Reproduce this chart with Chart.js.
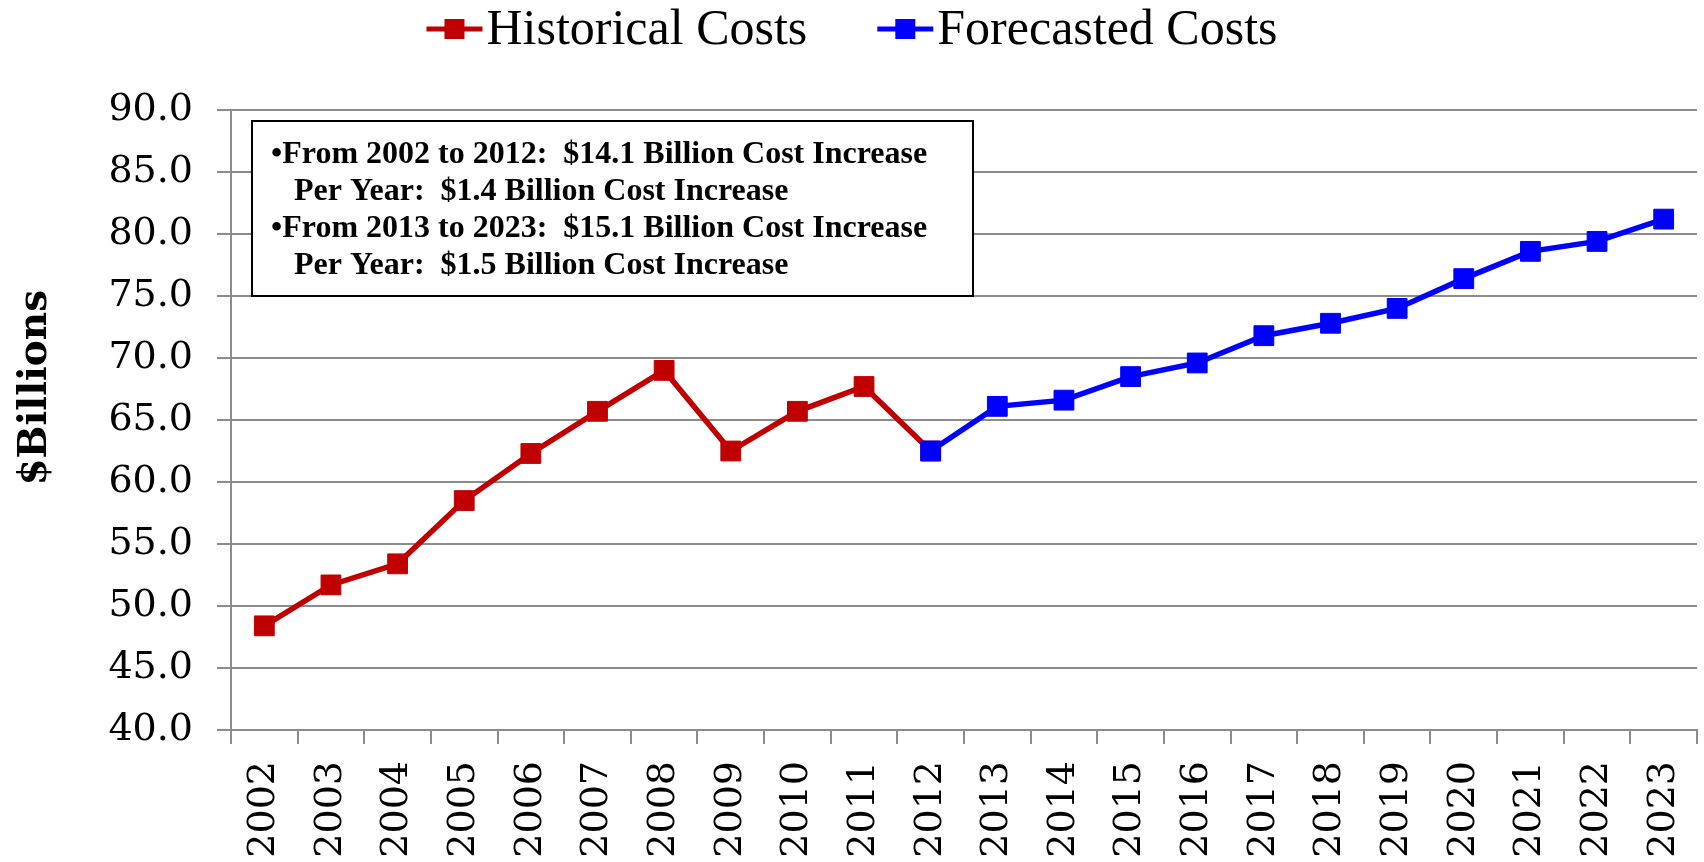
<!DOCTYPE html>
<html>
<head>
<meta charset="utf-8">
<script src="https://cdn.jsdelivr.net/npm/chart.js@4.4.1/dist/chart.umd.min.js"></script>
<style>
  body { margin: 0; background: #fff; }
  #wrap { width: 1704px; height: 862px; }
</style>
</head>
<body>
<div id="wrap"><canvas id="myChart" width="1704" height="862"></canvas></div>
<script>
const years = ["2002", "2003", "2004", "2005", "2006", "2007", "2008", "2009", "2010", "2011", "2012",
    "2013", "2014", "2015", "2016", "2017", "2018", "2019", "2020", "2021", "2022", "2023"];
const historicalCosts = [48.4, 51.7, 53.4, 58.5, 62.3, 65.7, 69.0, 62.5, 65.7, 67.7, 62.5,
    null, null, null, null, null, null, null, null, null, null, null];
const forecastedCosts = [null, null, null, null, null, null, null, null, null, null, 62.5,
    66.1, 66.6, 68.5, 69.6, 71.8, 72.8, 74.0, 76.4, 78.6, 79.4, 81.2];
const yMin = 40;
const yMax = 90;
const yStep = 5;
const yTitle = "$Billions";
const noteLines = [
    "\u2022From 2002 to 2012:  $14.1 Billion Cost Increase",
    "Per Year:  $1.4 Billion Cost Increase",
    "\u2022From 2013 to 2023:  $15.1 Billion Cost Increase",
    "Per Year:  $1.5 Billion Cost Increase"
];

const red = "#C00000";
const blue = "#0000FF";
const gridColor = "#8c8c8c";
const tickFont = { family: "'DejaVu Serif', serif", size: 38 };

// legend drawn by hand: line with a square on it, like the original
const legendPlugin = {
    id: "lineLegend",
    afterDraw(chart) {
        const ctx = chart.ctx;
        const items = [chart.data.datasets[1], chart.data.datasets[0]];
        ctx.save();
        ctx.font = "50px 'Liberation Serif', serif";
        const lineLen = 56, gap = 4, between = 70;
        let total = 0;
        items.forEach((ds, i) => {
            total += lineLen + gap + ctx.measureText(ds.label).width + (i < items.length - 1 ? between : 0);
        });
        let x = (chart.width - total) / 2;
        const y = 29;
        items.forEach((ds) => {
            ctx.strokeStyle = ds.borderColor;
            ctx.lineWidth = 5;
            ctx.beginPath();
            ctx.moveTo(x, y);
            ctx.lineTo(x + lineLen, y);
            ctx.stroke();
            ctx.fillStyle = ds.borderColor;
            ctx.fillRect(x + lineLen / 2 - 10, y - 10, 20, 20);
            ctx.fillStyle = "#000";
            ctx.textBaseline = "middle";
            ctx.textAlign = "left";
            ctx.fillText(ds.label, x + lineLen + gap, y + 2);
            x += lineLen + gap + ctx.measureText(ds.label).width + between;
        });
        ctx.restore();
    }
};

// text box in the upper left of the plot, plus the y axis title
const notePlugin = {
    id: "noteBox",
    afterDatasetsDraw(chart) {
        const ctx = chart.ctx;
        const area = chart.chartArea;
        const yScale = chart.scales.y;
        const left = area.left + 21;
        const top = area.top + 11;
        const width = 721;
        const bottom = yScale.getPixelForValue(75);
        ctx.save();
        ctx.fillStyle = "#fff";
        ctx.fillRect(left, top, width, bottom - top);
        ctx.strokeStyle = "#000";
        ctx.lineWidth = 2;
        ctx.strokeRect(left, top, width, bottom - top);
        ctx.fillStyle = "#000";
        ctx.font = "bold 32px 'Liberation Serif', serif";
        ctx.textBaseline = "middle";
        noteLines.forEach((line, i) => {
            const indent = i % 2 === 1 ? 42 : 19;
            ctx.fillText(line, left + indent, top + 34 + i * 37);
        });

        ctx.translate(36, yScale.getPixelForValue(67.6));
        ctx.rotate(-Math.PI / 2);
        ctx.font = "bold 39px 'DejaVu Serif', serif";
        ctx.textAlign = "center";
        ctx.fillText(yTitle, 0, 0);
        ctx.restore();
    }
};

function prepareConfig() {
    const config = {
        type: "line",
        data: {
            labels: years,
            datasets: [
                {
                    label: "Forecasted Costs",
                    data: forecastedCosts,
                    borderColor: blue,
                    backgroundColor: blue,
                    order: 0
                },
                {
                    label: "Historical Costs",
                    data: historicalCosts,
                    borderColor: red,
                    backgroundColor: red,
                    order: 1
                }
            ].map((ds) => Object.assign(ds, {
                borderWidth: 5.5,
                tension: 0,
                pointStyle: "rect",
                pointRadius: 14,
                pointBorderWidth: 1,
                pointBorderColor: ds.borderColor,
                pointBackgroundColor: ds.borderColor
            }))
        },
        options: {
            responsive: false,
            animation: false,
            devicePixelRatio: 1,
            layout: { autoPadding: false, padding: { top: 110, right: 7, left: 0, bottom: 0 } },
            plugins: {
                legend: { display: false },
                tooltip: { enabled: false }
            },
            scales: {
                x: {
                    offset: true,
                    afterFit: (scale) => {
                        scale.height = 132;
                        scale.paddingLeft = 0;
                        scale.paddingRight = 0;
                    },
                    grid: {
                        offset: true,
                        drawOnChartArea: false,
                        color: gridColor,
                        lineWidth: 2,
                        tickLength: 14
                    },
                    border: { color: gridColor, width: 2 },
                    ticks: {
                        color: "#000",
                        font: tickFont,
                        minRotation: 90,
                        maxRotation: 90,
                        padding: 17,
                        autoSkip: false
                    }
                },
                y: {
                    min: yMin,
                    max: yMax,
                    afterFit: (scale) => { scale.width = 231; },
                    grid: {
                        color: gridColor,
                        lineWidth: 2,
                        tickLength: 14
                    },
                    border: { color: gridColor, width: 2 },
                    ticks: {
                        stepSize: yStep,
                        color: "#000",
                        font: tickFont,
                        padding: 24,
                        callback: (v) => Number(v).toFixed(1)
                    }
                }
            }
        },
        plugins: [legendPlugin, notePlugin]
    };
    return config;
}

const chartDOM = document.getElementById("myChart");
new Chart(chartDOM, prepareConfig());
</script>
</body>
</html>
